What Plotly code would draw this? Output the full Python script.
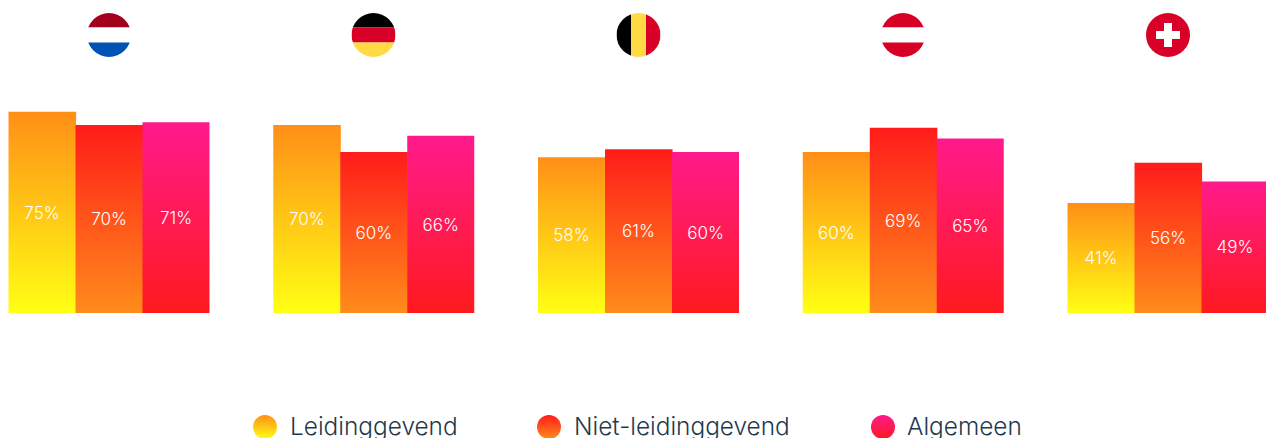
import base64
import plotly.graph_objects as go

countries = ["Nederland", "Duitsland", "België", "Oostenrijk", "Zwitserland"]
series_names = ["Leidinggevend", "Niet-leidinggevend", "Algemeen"]
leidinggevend = [75, 70, 58, 60, 41]
niet_leidinggevend = [70, 60, 61, 69, 56]
algemeen = [71, 66, 60, 65, 49]
series_values = [leidinggevend, niet_leidinggevend, algemeen]
tops = ["#FF8F17", "#FF1C1A", "#FF1A8C"]
bottoms = ["#FFFF14", "#FF8C1A", "#FF1A1F"]

W, H = 1266, 438
PX_PER_GROUP = 264.75
PX_PER_PCT = 2.685
BASE_PX = 313
CENTER0_PX = 109
BAR = 67 / PX_PER_GROUP
SEAM = 0.6 / PX_PER_GROUP
LABEL_DROP = 2 / PX_PER_PCT

x_range = [-CENTER0_PX / PX_PER_GROUP, (W - CENTER0_PX) / PX_PER_GROUP]
y_range = [-(H - BASE_PX) / PX_PER_PCT, BASE_PX / PX_PER_PCT]
LABEL_FONT = "Inter"

fig = go.Figure()
for s, (name, vals) in enumerate(zip(series_names, series_values)):
    for g, v in enumerate(vals):
        x0 = g + (s - 1.5) * BAR
        x1 = x0 + BAR + (SEAM if s < 2 else 0)
        fig.add_trace(go.Scatter(
            x=[x0, x1, x1, x0, x0], y=[0, 0, v, v, 0],
            mode="none", fill="toself",
            fillgradient=dict(type="vertical",
                              colorscale=[[0, bottoms[s]], [1, tops[s]]]),
            name=name, showlegend=False, hoverinfo="skip"))
for s, vals in enumerate(series_values):
    fig.add_trace(go.Scatter(
        x=[g + (s - 1) * BAR for g in range(len(vals))],
        y=[v / 2 - LABEL_DROP for v in vals],
        mode="text", text=[f"{v}%" for v in vals], textposition="middle center",
        textfont=dict(family=LABEL_FONT, size=17, color="white", weight=300),
        showlegend=False, hoverinfo="skip"))

# Legend, drawn on the plot so its position can match the reference
legend_px = [265, 549, 883]
legend_text_px = [290, 574, 907]
for s, name in enumerate(series_names):
    fig.add_trace(go.Scatter(
        x=[(legend_px[s] - CENTER0_PX) / PX_PER_GROUP],
        y=[(BASE_PX - 427) / PX_PER_PCT],
        mode="markers",
        marker=dict(size=24, color=tops[s], line=dict(width=0),
                    gradient=dict(type="vertical", color=bottoms[s])),
        cliponaxis=False, showlegend=False, hoverinfo="skip"))
    fig.add_trace(go.Scatter(
        x=[(legend_text_px[s] - CENTER0_PX) / PX_PER_GROUP],
        y=[(BASE_PX - 429) / PX_PER_PCT],
        mode="text", text=[name], textposition="middle right",
        textfont=dict(family=LABEL_FONT, size=24.4, color="#1F3A4D", weight=300),
        cliponaxis=False, showlegend=False, hoverinfo="skip"))


def flag_svg(body):
    svg = ('<svg xmlns="http://www.w3.org/2000/svg" viewBox="0 0 44 44" width="44" height="44">'
           '<defs><clipPath id="c"><circle cx="22" cy="22" r="22"/></clipPath></defs>'
           f'<g clip-path="url(#c)">{body}</g></svg>')
    return "data:image/svg+xml;base64," + base64.b64encode(svg.encode()).decode()


def hbands(a, b, c):
    return (f'<rect width="44" height="14.5" fill="{a}"/>'
            f'<rect y="14.5" width="44" height="15" fill="{b}"/>'
            f'<rect y="29.5" width="44" height="14.5" fill="{c}"/>')


flags = [
    hbands("#A2001D", "#FFFFFF", "#0052B4"),
    hbands("#000000", "#D80027", "#FFDA44"),
    '<rect width="14.5" height="44" fill="#000"/><rect x="14.5" width="15" height="44" fill="#FFDA44"/>'
    '<rect x="29.5" width="14.5" height="44" fill="#D80027"/>',
    hbands("#D80027", "#FFFFFF", "#D80027"),
    '<rect width="44" height="44" fill="#D80027"/><rect x="18" y="10" width="8" height="24" fill="#fff"/>'
    '<rect x="10" y="18" width="24" height="8" fill="#fff"/>',
]
flag_cx = [109, 373.5, 638.5, 903, 1168]
images = [dict(source=flag_svg(b), xref="paper", yref="paper", xanchor="center", yanchor="middle",
               x=cx / W, y=1 - 35 / H, sizex=44 / W, sizey=44 / H, sizing="contain", layer="above")
          for b, cx in zip(flags, flag_cx)]

fig.update_layout(
    width=W, height=H, margin=dict(l=0, r=0, t=0, b=0),
    paper_bgcolor="white", plot_bgcolor="white", showlegend=False, images=images,
    xaxis=dict(range=x_range, visible=False, fixedrange=True),
    yaxis=dict(range=y_range, visible=False, fixedrange=True),
)
fig.write_html("out.html", config={"displayModeBar": False, "responsive": False},
               default_width=W, default_height=H,
               post_script="document.body.style.margin='0';document.body.style.overflow='hidden';")
